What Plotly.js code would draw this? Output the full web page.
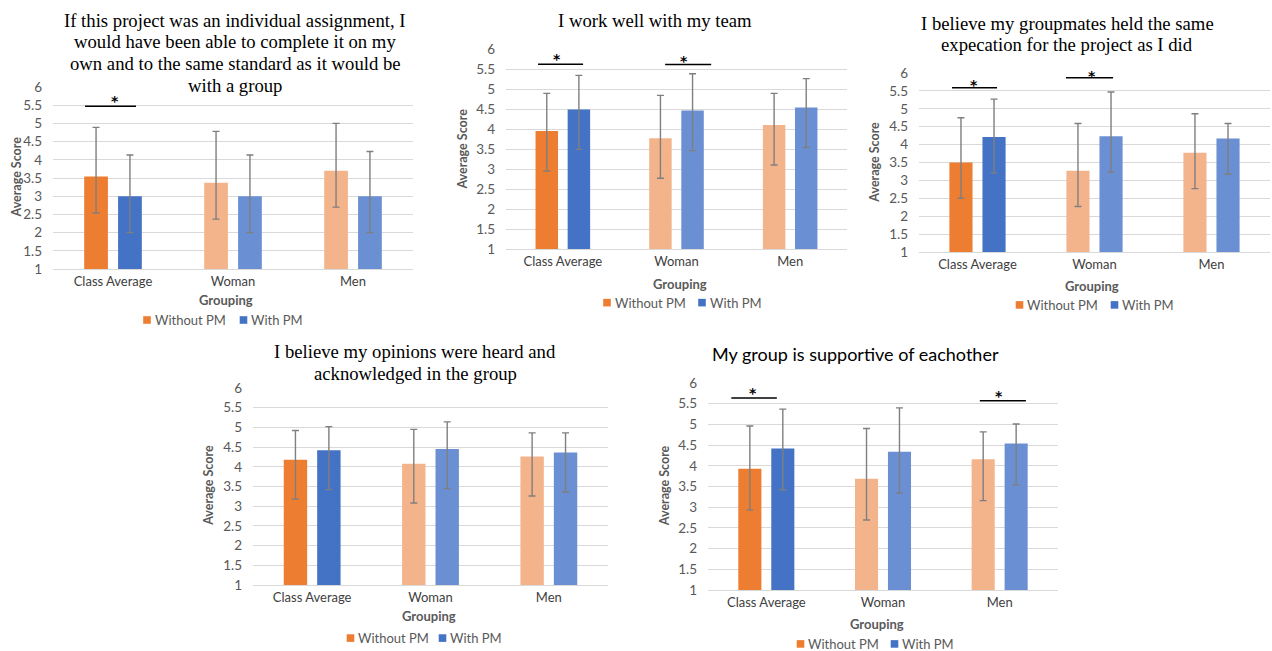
<!DOCTYPE html>
<html><head><meta charset="utf-8">
<script src="https://cdn.plot.ly/plotly-3.0.1.min.js"></script>
<style>
body{margin:0;background:#fff;width:1272px;height:651px;position:relative;overflow:hidden}
.c{position:absolute}
</style>
</head><body>
<div id="c1" class="c"></div><div id="c2" class="c"></div><div id="c3" class="c"></div>
<div id="c4" class="c"></div><div id="c5" class="c"></div>
<script>
// ---------- DATA ----------
const categories = ['Class Average', 'Woman', 'Men'];
const seriesNames = ['Without PM', 'With PM'];
const yTicks = [1, 1.5, 2, 2.5, 3, 3.5, 4, 4.5, 5, 5.5, 6];

const title1 = ['If this project was an individual assignment, I', 'would have been able to complete it on my', 'own and to the same standard as it would be', 'with a group'];
const title2 = ['I work well with my team'];
const title3 = ['I believe my groupmates held the same', 'expecation for the project as I did'];
const title4 = ['I believe my opinions were heard and', 'acknowledged in the group'];
const title5 = ['My group is supportive of eachother'];

// chart 1
const c1Without = [3.54, 3.37, 3.70];
const c1WithoutPlus = [1.35, 1.41, 1.30];
const c1WithoutMinus = [1.0, 1.0, 1.0];
const c1With = [3.0, 3.0, 3.0];
const c1WithPlus = [1.13, 1.13, 1.23];
const c1WithMinus = [1.0, 1.0, 1.0];
const c1SigLevels = [5.47];
// chart 2
const c2Without = [3.95, 3.77, 4.10];
const c2WithoutPlus = [0.94, 1.07, 0.79];
const c2WithoutMinus = [1.0, 1.0, 1.0];
const c2With = [4.49, 4.46, 4.54];
const c2WithPlus = [0.85, 0.92, 0.72];
const c2WithMinus = [1.0, 1.0, 1.0];
const c2SigLevels = [5.62, 5.61];
// chart 3
const c3Without = [3.50, 3.27, 3.77];
const c3WithoutPlus = [1.25, 1.32, 1.09];
const c3WithoutMinus = [1.0, 1.0, 1.0];
const c3With = [4.21, 4.23, 4.17];
const c3WithPlus = [1.06, 1.24, 0.42];
const c3WithMinus = [1.0, 1.0, 1.0];
const c3SigLevels = [5.59, 5.87];
// chart 4
const c4Without = [4.18, 4.08, 4.26];
const c4WithoutPlus = [0.74, 0.87, 0.60];
const c4WithoutMinus = [1.0, 1.0, 1.0];
const c4With = [4.42, 4.45, 4.36];
const c4WithPlus = [0.60, 0.69, 0.50];
const c4WithMinus = [1.0, 1.0, 1.0];
const c4SigLevels = [];
// chart 5
const c5Without = [3.93, 3.69, 4.16];
const c5WithoutPlus = [1.03, 1.21, 0.66];
const c5WithoutMinus = [1.0, 1.0, 1.0];
const c5With = [4.42, 4.34, 4.54];
const c5WithPlus = [0.95, 1.06, 0.47];
const c5WithMinus = [1.0, 1.0, 1.0];
const c5SigLevels = [5.64, 5.57];

// ---------- STYLE / LAYOUT ----------
const withoutColors = ['#ED7D31', '#F4B48B', '#F4B48B'];
const withColors = ['#4472C4', '#6B8FD3', '#6B8FD3'];
const SANS = 'Lato, "Open Sans", sans-serif';
const SERIF = '"Liberation Serif", "Times New Roman", serif';
const GREY = '#595959';

const charts = [
  {id:'c1', box:[0,0,420,330], plot:[53,413,87,269], title:title1, tfont:SERIF, tsize:18.7, tx:235, ty:[20,41.7,63.3,85],
   yTitle:[16,177.5], xTitle:[226,300], legend:[147,243.5,320],
   w:c1Without, wp:c1WithoutPlus, wm:c1WithoutMinus, p:c1With, pp:c1WithPlus, pm:c1WithMinus,
   sig:c1SigLevels, sigSpan:[[0,-0.233,0.192,0.017,5]]},
  {id:'c2', box:[425,0,435,330], plot:[506,847,49,249.3], title:title2, tfont:SERIF, tsize:18.7, tx:654.7, ty:[20],
   yTitle:[462.7,149], xTitle:[680,284], legend:[607,702,303],
   w:c2Without, wp:c2WithoutPlus, wm:c2WithoutMinus, p:c2With, pp:c2WithPlus, pm:c2WithMinus,
   sig:c2SigLevels, sigSpan:[[0,-0.218,0.178,-0.05,5],[1,-0.10,0.305,0.066,4]]},
  {id:'c3', box:[862,0,410,330], plot:[919,1270,72.7,252], title:title3, tfont:SERIF, tsize:18.7, tx:1067, ty:[22.7,44],
   yTitle:[875,162.5], xTitle:[1092,286], legend:[1019.5,1114.5,305],
   w:c3Without, wp:c3WithoutPlus, wm:c3WithoutMinus, p:c3With, pp:c3WithPlus, pm:c3WithMinus,
   sig:c3SigLevels, sigSpan:[[0,-0.218,0.167,-0.03,3],[1,-0.244,0.159,-0.02,2]]},
  {id:'c4', box:[190,335,440,316], plot:[253,608,388.3,585], title:title4, tfont:SERIF, tsize:18.7, tx:415, ty:[352.3,374],
   yTitle:[209,486], xTitle:[429,616], legend:[350.5,442.5,638],
   w:c4Without, wp:c4WithoutPlus, wm:c4WithoutMinus, p:c4With, pp:c4WithPlus, pm:c4WithMinus,
   sig:c4SigLevels, sigSpan:[]},
  {id:'c5', box:[640,335,432,316], plot:[708,1058,382.7,590], title:title5, tfont:SANS, tsize:18, tx:855.8, ty:[354],
   yTitle:[664,486], xTitle:[877,624], legend:[800.5,894.5,644],
   w:c5Without, wp:c5WithoutPlus, wm:c5WithoutMinus, p:c5With, pp:c5WithPlus, pm:c5WithMinus,
   sig:c5SigLevels, sigSpan:[[0,-0.30,0.09,-0.114,5],[2,-0.17,0.225,-0.006,5]]}
];

charts.forEach(function(c){
  const [L,T,W,H] = c.box;
  const [x0,x1,yTop,yBot] = c.plot;
  const el = document.getElementById(c.id);
  el.style.left = L+'px'; el.style.top = T+'px'; el.style.width = W+'px'; el.style.height = H+'px';
  const px = function(x){ return (x - x0)/(x1 - x0); };
  const py = function(y){ return (yBot - y)/(yBot - yTop); };
  const err = function(plus, minus){ return {type:'data', symmetric:false, array:plus, arrayminus:minus, color:'#7F7F7F', thickness:1.4, width:3.5}; };

  const traces = [
    {type:'bar', name:seriesNames[0], x:categories, y:c.w, marker:{color:withoutColors}, error_y:err(c.wp, c.wm), hoverinfo:'y'},
    {type:'bar', name:seriesNames[1], x:categories, y:c.p, marker:{color:withColors}, error_y:err(c.pp, c.pm), hoverinfo:'y'}
  ];

  const ann = [];
  const shapes = [];
  c.title.forEach(function(line, i){
    ann.push({xref:'paper', yref:'paper', x:px(c.tx), y:py(c.ty[i]), xanchor:'center', yanchor:'middle', showarrow:false,
      text:line, font:{family:c.tfont, size:c.tsize, color:'#000'}});
  });
  ann.push({xref:'paper', yref:'paper', x:px(c.yTitle[0]), y:py(c.yTitle[1]), xanchor:'center', yanchor:'middle', showarrow:false,
    textangle:-90, text:'<b>Average Score</b>', font:{family:SANS, size:12.5, color:GREY}});
  ann.push({xref:'paper', yref:'paper', x:px(c.xTitle[0]), y:py(c.xTitle[1]), xanchor:'center', yanchor:'middle', showarrow:false,
    text:'<b>Grouping</b>', font:{family:SANS, size:13, color:GREY}});
  // legend
  const lg = c.legend;
  [[lg[0], withoutColors[0], seriesNames[0]], [lg[1], withColors[0], seriesNames[1]]].forEach(function(it){
    shapes.push({type:'rect', xref:'paper', yref:'paper', x0:px(it[0]-3.8), x1:px(it[0]+3.8), y0:py(lg[2]+3.8), y1:py(lg[2]-3.8),
      fillcolor:it[1], line:{width:0}});
    ann.push({xref:'paper', yref:'paper', x:px(it[0]+5.5), y:py(lg[2]), xanchor:'left', yanchor:'middle', showarrow:false,
      text:it[2], font:{family:SANS, size:13, color:GREY}});
  });
  // significance markers
  c.sigSpan.forEach(function(s, i){
    const lvl = c.sig[i];
    shapes.push({type:'line', xref:'x', yref:'y', x0:s[0]+s[1], x1:s[0]+s[2], y0:lvl, y1:lvl, line:{color:'#000', width:1.5}});
    ann.push({xref:'x', yref:'y', x:s[0]+s[3], y:lvl, xanchor:'center', yanchor:'middle', yshift:s[4], showarrow:false,
      text:'<b>*</b>', font:{family:'"DejaVu Sans", sans-serif', size:14, color:'#000'}});
  });

  const layout = {
    width:W, height:H,
    margin:{l:x0-L, r:L+W-x1, t:yTop-T, b:T+H-yBot, pad:0},
    paper_bgcolor:'rgba(0,0,0,0)', plot_bgcolor:'rgba(0,0,0,0)',
    showlegend:false, barmode:'group', bargap:0.435, bargroupgap:0.3,
    font:{family:SANS, size:13, color:GREY},
    xaxis:{type:'category', showgrid:false, showline:true, linecolor:'#D9D9D9', linewidth:1, ticks:'', zeroline:false,
      tickfont:{family:SANS, size:13, color:'#404040'}, fixedrange:true},
    yaxis:{range:[1,6], tickvals:yTicks, ticktext:yTicks.map(String), showgrid:true, gridcolor:'#D9D9D9', gridwidth:1,
      zeroline:false, showline:false, ticks:'', ticklabelstandoff:10, tickfont:{family:SANS, size:13.5, color:GREY}, fixedrange:true},
    annotations:ann, shapes:shapes
  };
  Plotly.newPlot(el, traces, layout, {displayModeBar:false, staticPlot:true});
});
</script>
</body></html>
